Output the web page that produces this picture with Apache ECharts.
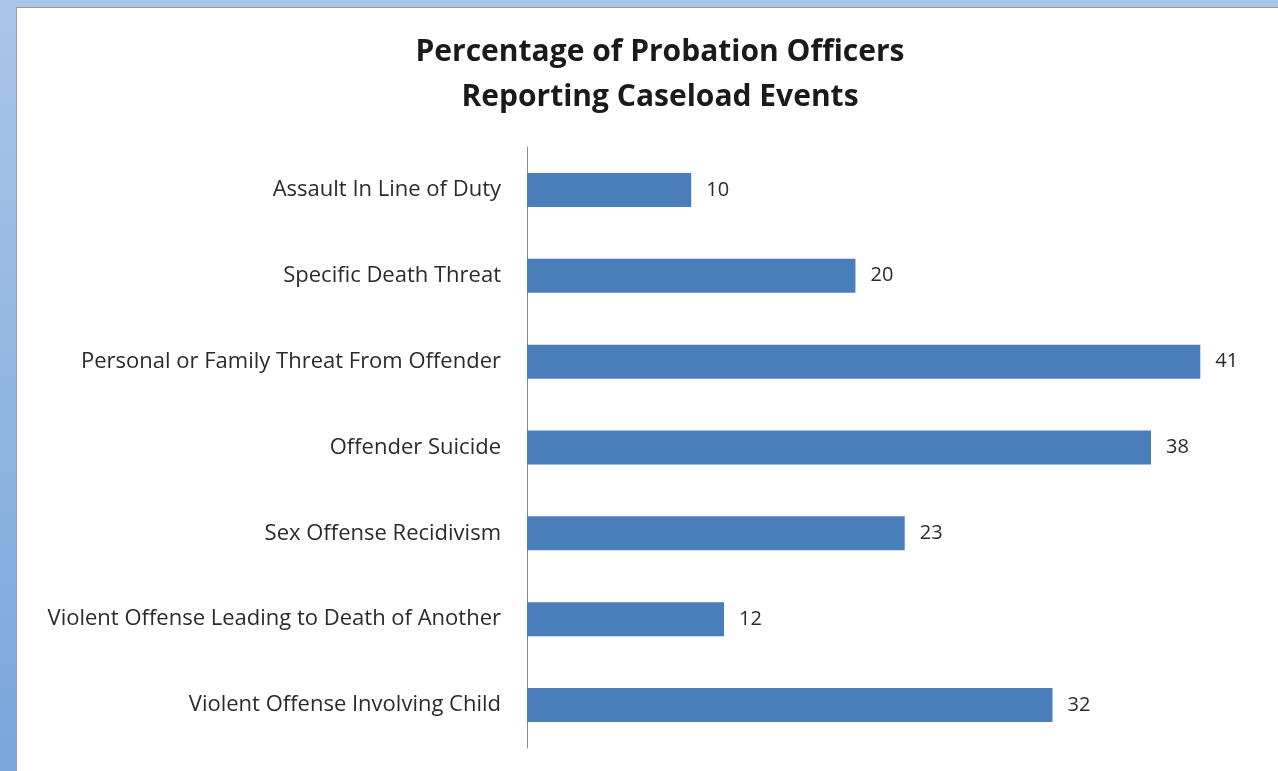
<!DOCTYPE html>
<html>
<head>
<meta charset="utf-8">
<script src="https://cdn.jsdelivr.net/npm/echarts@6/dist/echarts.min.js"></script>
<style>
    html, body { margin: 0; padding: 0; }
    body {
        width: 1278px; height: 771px; overflow: hidden;
        background: linear-gradient(180deg, #a9c6e8 0%, #7aa6dc 100%);
        position: relative;
    }
    #panel {
        position: absolute; left: 16px; top: 7px; right: 0; bottom: 0;
        background: #fff; border-left: 1px solid #9a9a9a; border-top: 1px solid #9a9a9a;
    }
    #chart { position: absolute; left: 0; top: 0; width: 1278px; height: 771px; }
</style>
</head>
<body>
<div id="panel"></div>
<div id="chart"></div>
<script>
const categories = [
    'Assault In Line of Duty',
    'Specific Death Threat',
    'Personal or Family Threat From Offender',
    'Offender Suicide',
    'Sex Offense Recidivism',
    'Violent Offense Leading to Death of Another',
    'Violent Offense Involving Child'
];
const percentages = [10, 20, 41, 38, 23, 12, 32];

const chart = echarts.init(document.getElementById('chart'));

chart.setOption({
    backgroundColor: 'transparent',
    title: {
        text: 'Percentage of Probation Officers\nReporting Caseload Events',
        left: 655,
        textAlign: 'center',
        top: 25,
        textStyle: {
            fontFamily: 'Open Sans',
            fontSize: 30,
            fontWeight: 'bold',
            color: '#1a1a1a',
            lineHeight: 45
        }
    },
    grid: { left: 527, top: 147, right: 12, bottom: 23, containLabel: false },
    xAxis: {
        type: 'value',
        min: 0,
        max: 45,
        show: false
    },
    yAxis: {
        type: 'category',
        data: categories,
        inverse: true,
        axisLine: { lineStyle: { color: '#8c8c8c', width: 1 } },
        axisTick: { show: false },
        axisLabel: {
            margin: 26,
            fontFamily: 'Open Sans',
            fontSize: 22,
            color: '#2b2b2b'
        }
    },
    series: [{
        type: 'bar',
        data: percentages,
        barWidth: 34,
        itemStyle: { color: '#4a7ebb' },
        label: {
            show: true,
            position: 'right',
            distance: 15,
            fontFamily: 'Open Sans',
            fontSize: 20,
            color: '#2b2b2b'
        }
    }]
});
</script>
</body>
</html>
